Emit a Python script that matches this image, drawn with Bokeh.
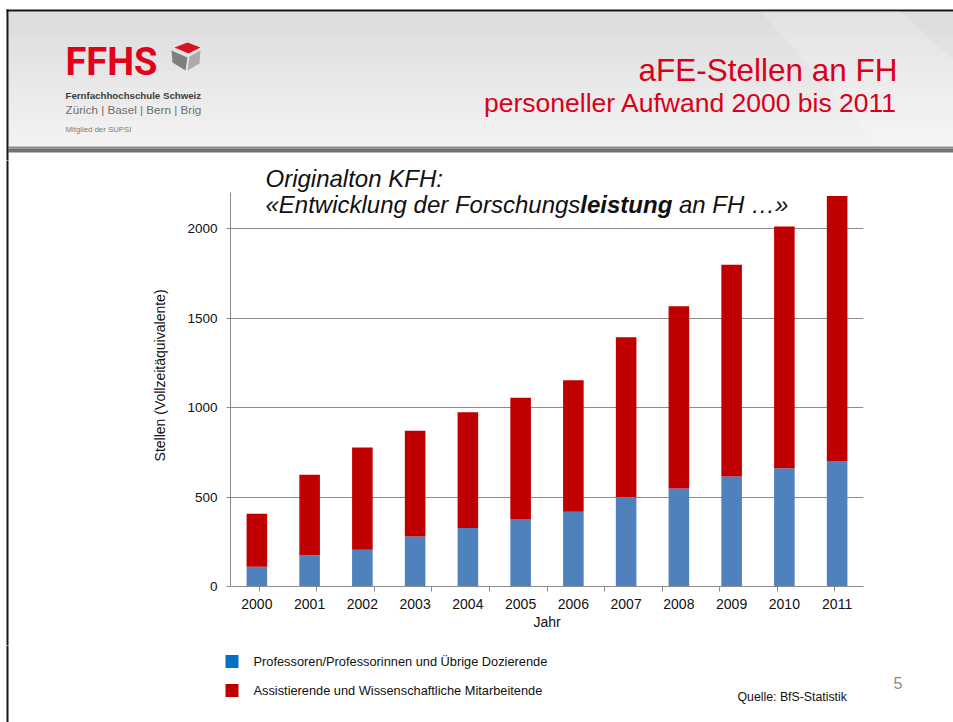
from bokeh.plotting import figure
from bokeh.layouts import column, row
from bokeh.models import (FactorRange, Range1d, CategoricalAxis, FixedTicker,
                          Label, ColumnDataSource, CustomLabelingPolicy)
from bokeh.embed import file_html
from bokeh.resources import INLINE

# ---------------- data ----------------
years = ["2000", "2001", "2002", "2003", "2004", "2005",
         "2006", "2007", "2008", "2009", "2010", "2011"]
prof = [111, 174, 205, 280, 327, 377, 418, 500, 548, 615, 660, 699]
assist = [295, 451, 572, 590, 646, 678, 734, 893, 1018, 1182, 1351, 1482]
y_ticks = [0, 500, 1000, 1500, 2000]
series_names = ["Professoren/Professorinnen und Übrige Dozierende",
                "Assistierende und Wissenschaftliche Mitarbeitende"]
bar_colors = ["#4F81BD", "#C00000"]
legend_colors = ["#0070C0", "#C00000"]

# ---------------- layout constants (page pixels) ----------------
PW = 953                     # page width
HDR_H = 160                  # header strip: y 0..160
CH_TOP, CH_BOT = 160, 645    # chart strip
PH = 722
STRIP_W = 10
FL, FR, FB = 230, 863, 586   # plot frame on the page (frame top = CH_TOP)
Y_AXIS_TOP = 2200
Y_VIEW_TOP = 2380            # extra room above the axis for the quotation
FONT = "Liberation Sans"
RED = "#DA0019"
BLACK = "#151515"
ANCHOR = 0.36                # label anchor sits ~0.36 em above the baseline


def deco_fig(w, h, x0, x1, y0, y1):
    f = figure(width=w, height=h, x_range=Range1d(x0, x1), y_range=Range1d(y0, y1),
               output_backend="svg", toolbar_location=None, title=None,
               x_axis_location=None, y_axis_location=None, min_border=0)
    f.frame_align = False
    f.outline_line_color = None
    f.xgrid.visible = False
    f.ygrid.visible = False
    f.background_fill_color = "white"
    f.border_fill_color = "white"
    return f


def dlab(f, text, x, base, size, color="#111111", font=FONT, style="normal", align="left"):
    f.add_layout(Label(x=x, y=base - ANCHOR * size, text=text, text_font=font,
                       text_font_size=f"{size}px", text_font_style=style,
                       text_color=color, text_align=align, text_baseline="alphabetic"))


# ================= header =================
hdr = deco_fig(PW, HDR_H, 0, PW, HDR_H, 0)   # y grows downwards = page y
n = 16
g_top, g_bot = 11, 146
bt = [g_top + (g_bot - g_top) * i / n for i in range(n)]
bb = [g_top + (g_bot - g_top) * (i + 1) / n + 0.6 for i in range(n)]
gc = []
for i in range(n):
    c = int(221 + (243 - 221) * i / (n - 1))
    gc.append(f"#{c:02x}{c:02x}{c:02x}")
hdr.quad(left=[8] * n, right=[PW] * n, top=bt, bottom=bb, fill_color=gc, line_color=None)
hdr.quad(left=[8, 8], right=[PW, PW], top=[146, 148], bottom=[148, 152],
         fill_color=["#8A8E93", "#6E7277"], line_color=None)
hdr.quad(left=[6, 6], right=[PW, 8], top=[9, 9], bottom=[11, HDR_H + 5],
         fill_color=BLACK, line_color=None)
# faint watermark on the right of the header
hdr.patch([760, 900, 953, 953, 880], [11, 11, 60, 146, 146], fill_color="#FFFFFF",
          fill_alpha=0.2, line_color=None)

# logo
dlab(hdr, "FFHS", 65, 75, 38, color="#E2001A", font="Roboto", style="bold")
hdr.patch([174, 187, 200, 188], [47, 42, 47, 53], fill_color="#D7141E", line_color=None)
hdr.patch([171, 187, 185, 172], [50, 57, 70, 62], fill_color="#7F7F7F", line_color=None)
hdr.patch([189, 200, 199, 187], [56, 50, 63, 70], fill_color="#ABABAB", line_color=None)
dlab(hdr, "Fernfachhochschule Schweiz", 65, 98, 9.7, color="#3C3C3C", style="bold")
dlab(hdr, "Zürich | Basel | Bern | Brig", 65, 113, 11.7, color="#6E6E6E")
dlab(hdr, "Mitglied der SUPSI", 65, 132, 7.8, color="#7A7A7A")

# slide title
dlab(hdr, "aFE-Stellen an FH", 897, 81, 31.5, color=RED, align="right")
dlab(hdr, "personeller Aufwand 2000 bis 2011", 897, 112, 26.5, color=RED, align="right")

# ================= left border strip next to the chart =================
strip = deco_fig(STRIP_W, CH_BOT - CH_TOP, 0, STRIP_W, CH_BOT, CH_TOP)
strip.quad(left=[6], right=[8], top=[CH_TOP - 20], bottom=[CH_BOT + 20], fill_color=BLACK,
           line_color=None)

# ================= chart =================
p = figure(width=PW - STRIP_W, height=CH_BOT - CH_TOP,
           x_range=FactorRange(*years), y_range=Range1d(0, Y_VIEW_TOP),
           output_backend="svg", toolbar_location=None, title=None,
           x_axis_location=None,
           min_border_left=FL - STRIP_W, min_border_right=PW - FR,
           min_border_top=0, min_border_bottom=CH_BOT - FB)
p.frame_align = False
p.outline_line_color = None
p.background_fill_color = "white"
p.border_fill_color = "white"
p.xgrid.grid_line_color = None
p.ygrid.ticker = FixedTicker(ticks=y_ticks)
p.ygrid.grid_line_color = "#8C8C8C"
p.ygrid.grid_line_width = 1

yax = p.yaxis[0]
yax.ticker = FixedTicker(ticks=y_ticks)
yax.bounds = (0, Y_AXIS_TOP)
yax.axis_line_color = "#8C8C8C"
yax.major_tick_line_color = "#8C8C8C"
yax.major_tick_out = 4
yax.major_tick_in = 0
yax.minor_tick_line_color = None
yax.major_label_text_font = FONT
yax.major_label_text_font_size = "13.5px"
yax.major_label_text_color = "#111111"
yax.major_label_standoff = 9
yax.axis_label = "Stellen  (Vollzeitäquivalente)"
yax.axis_label_text_font = FONT
yax.axis_label_text_font_size = "14px"
yax.axis_label_text_font_style = "normal"
yax.axis_label_text_color = "#111111"
yax.axis_label_standoff = 16

# boundary ticks between the years (no labels), then the year labels
bounds = [f"|{i}" for i in range(len(years) + 1)]
p.extra_x_ranges = {"bounds": FactorRange(*bounds, range_padding=-1,
                                          range_padding_units="absolute")}
no_labels = CustomLabelingPolicy(code="for (const i of indices) { indices.unset(i) }; return indices")
tick_axis = CategoricalAxis(x_range_name="bounds", major_label_policy=no_labels,
                            major_label_text_font_size="1px", major_label_standoff=0,
                            major_tick_out=5, major_tick_in=0,
                            axis_line_color="#8C8C8C", major_tick_line_color="#8C8C8C")
cat_axis = CategoricalAxis(axis_line_color=None, major_tick_line_color=None,
                           major_tick_out=0, major_tick_in=0,
                           major_label_text_font=FONT,
                           major_label_text_font_size="14px",
                           major_label_text_color="#111111",
                           major_label_standoff=3,
                           axis_label="Jahr", axis_label_text_font=FONT,
                           axis_label_text_font_size="14px",
                           axis_label_text_font_style="normal",
                           axis_label_text_color="#111111",
                           axis_label_standoff=2)
p.add_layout(tick_axis, "below")
p.add_layout(cat_axis, "below")

src = ColumnDataSource(dict(year=years, prof=prof, assist=assist))
p.vbar_stack(["prof", "assist"], x="year", width=0.39, fill_color=bar_colors,
             line_color=None, source=src)


def clab(text, x, base, size, style="italic"):
    # frame-relative screen units: x from the frame's left, y up from its bottom
    p.add_layout(Label(x=x - FL, y=FB - (base - ANCHOR * size),
                       x_units="screen", y_units="screen",
                       text=text, text_font=FONT, text_font_size=f"{size}px",
                       text_font_style=style, text_color="#111111",
                       text_align="left", text_baseline="alphabetic"))


clab("Originalton KFH:", 265, 187, 24)
clab("«Entwicklung der Forschungs", 265, 213, 24)
clab("leistung", 579.8, 213, 24, style="bold italic")
clab("an FH …»", 678.5, 213, 24)

# ================= footer: legend, source, page number =================
ftr = deco_fig(PW, PH - CH_BOT, 0, PW, PH, CH_BOT)
ftr.quad(left=[6], right=[8], top=[CH_BOT - 20], bottom=[PH], fill_color=BLACK,
         line_color=None)
LEG_X, LEG_Y0, LEG_DY, SW = 225, 661, 29, 13
row_c = [LEG_Y0 + LEG_DY * i for i in range(len(series_names))]
ftr.quad(left=[LEG_X] * len(row_c), right=[LEG_X + SW] * len(row_c),
         top=[c - SW / 2 for c in row_c], bottom=[c + SW / 2 for c in row_c],
         fill_color=legend_colors, line_color=None)
for name, c in zip(series_names, row_c):
    dlab(ftr, name, LEG_X + 28, c + 4.6, 12.8)
dlab(ftr, "Quelle: BfS-Statistik", 737, 701, 12.3)
dlab(ftr, "5", 902, 688, 16, color="#8C8C8C", align="right")

page = column(hdr, row(strip, p, spacing=0), ftr, spacing=0)
open("out.html", "w").write(file_html(page, INLINE))
